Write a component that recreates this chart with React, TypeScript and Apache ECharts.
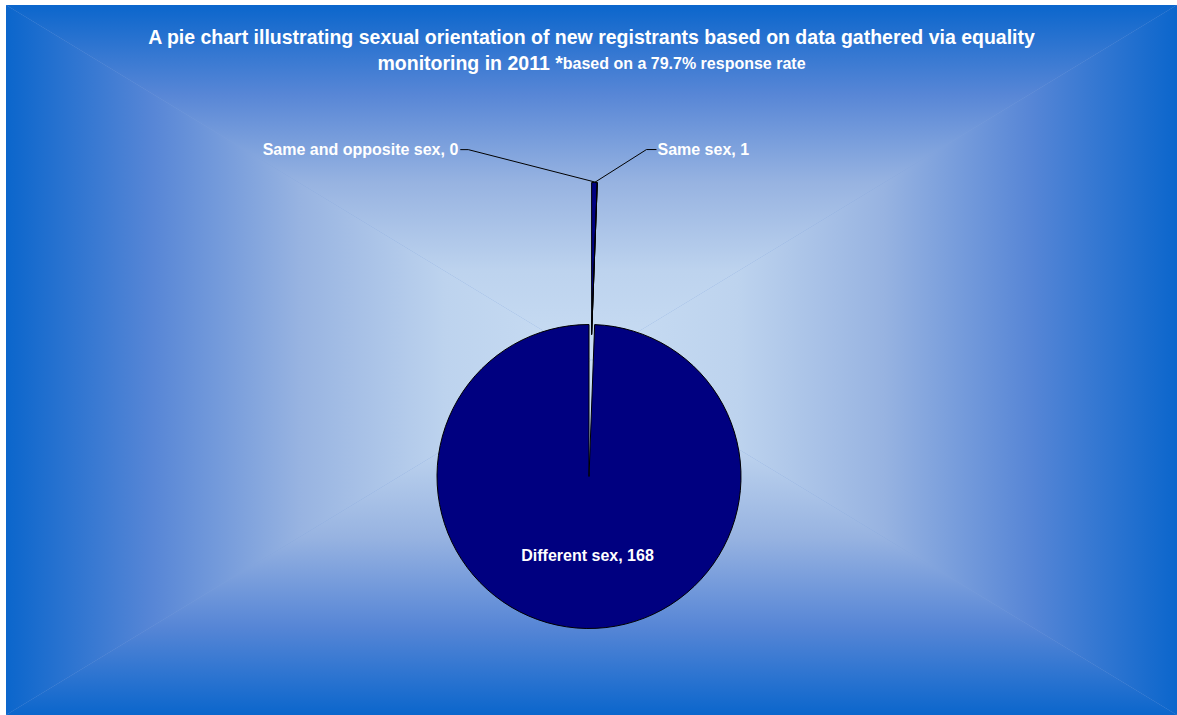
import React, { useEffect, useRef } from 'react';
import * as echarts from 'echarts';

const categories = ['Same sex', 'Same and opposite sex', 'Different sex'];
const values = [1, 0, 168];
const explodedIndex = [0, 1];
const titleLine1 = 'A pie chart illustrating sexual orientation of new registrants based on data gathered via equality';
const titleLine2 = 'monitoring in 2011 *';
const titleNote = 'based on a 79.7% response rate';

const W = 1171;
const H = 710;
const CX = 583;
const CY = 471.5;
const R = 152;
const EXPLODE = 142;
const NAVY = '#000080';
const FONT = '"Liberation Sans", Arial, sans-serif';

const gradStops = (reverse: boolean) => {
  const s: [number, string][] = [
    [0, '#0b66cc'],
    [0.25, '#5786d6'],
    [0.5, '#97b3e1'],
    [0.75, '#bdd3ee'],
    [1, '#c9ddf3'],
  ];
  const out = s.map(([o, c]) => ({ offset: reverse ? 1 - o : o, color: c }));
  out.sort((a, b) => a.offset - b.offset);
  return out;
};

export default function App() {
  const ref = useRef<HTMLDivElement>(null);
  useEffect(() => {
    if (!ref.current) return;
    const chart = echarts.init(ref.current, undefined, { renderer: 'svg' });
    const total = values.reduce((a, b) => a + b, 0);
    const mid = (values[0] / total) * Math.PI;
    const cxB = CX + EXPLODE * Math.sin(mid);
    const cyB = CY - EXPLODE * Math.cos(mid);
    const gx = W / 2;
    const gy = H / 2;

    const labelStyle = { color: '#fff', fontWeight: 'bold' as const, fontSize: 16, fontFamily: FONT };

    const mainData = categories.map((name, i) => {
      const exploded = explodedIndex.includes(i);
      return {
        name,
        value: values[i],
        itemStyle: exploded
          ? { color: 'rgba(0,0,0,0)', borderWidth: 0 }
          : { color: NAVY, borderColor: '#000', borderWidth: 1 },
        label: { show: !exploded },
      };
    });
    const explodedData = categories.map((name, i) => {
      const exploded = explodedIndex.includes(i);
      return {
        name,
        value: values[i],
        itemStyle: exploded
          ? { color: NAVY, borderColor: '#000', borderWidth: 1 }
          : { color: 'rgba(0,0,0,0)', borderWidth: 0 },
        label: { show: exploded },
        labelLine: { show: exploded },
      };
    });

    chart.setOption({
      animation: false,
      backgroundColor: '#7fa2dc',
      graphic: [
        {
          type: 'polygon',
          silent: true,
          shape: { points: [[0, 0], [W, 0], [gx, gy]] },
          style: { fill: new echarts.graphic.LinearGradient(0, 0, 0, 1, gradStops(false)) },
        },
        {
          type: 'polygon',
          silent: true,
          shape: { points: [[0, H], [W, H], [gx, gy]] },
          style: { fill: new echarts.graphic.LinearGradient(0, 0, 0, 1, gradStops(true)) },
        },
        {
          type: 'polygon',
          silent: true,
          shape: { points: [[0, 0], [0, H], [gx, gy]] },
          style: { fill: new echarts.graphic.LinearGradient(0, 0, 1, 0, gradStops(false)) },
        },
        {
          type: 'polygon',
          silent: true,
          shape: { points: [[W, 0], [W, H], [gx, gy]] },
          style: { fill: new echarts.graphic.LinearGradient(0, 0, 1, 0, gradStops(true)) },
        },
      ],
      title: {
        text: titleLine1 + '\n' + titleLine2 + '{s|' + titleNote + '}',
        left: 'center',
        top: 14,
        textStyle: {
          color: '#fff',
          fontWeight: 'bold',
          fontSize: 19.5,
          fontFamily: FONT,
          lineHeight: 26,
          rich: {
            s: { color: '#fff', fontWeight: 'bold', fontSize: 16, fontFamily: FONT, lineHeight: 26 },
          },
        },
      },
      series: [
        {
          type: 'pie',
          center: [CX, CY],
          radius: R,
          startAngle: 90,
          clockwise: true,
          avoidLabelOverlap: false,
          silent: true,
          label: { position: 'inside', formatter: '{b}, {c}', ...labelStyle },
          labelLine: { show: false },
          data: mainData,
        },
        {
          type: 'pie',
          center: [cxB, cyB],
          radius: R,
          startAngle: 90,
          clockwise: true,
          avoidLabelOverlap: false,
          silent: true,
          label: { position: 'outside', formatter: '{b}, {c}', ...labelStyle },
          labelLine: { show: true, length: 20, length2: 10, lineStyle: { color: '#000', width: 1 } },
          labelLayout: (params: any) => {
            const pts = params.labelLinePoints;
            const ax = pts && pts[0] ? pts[0][0] : params.rect.x + params.rect.width / 2;
            const ay = pts && pts[0] ? pts[0][1] : params.rect.y;
            if (params.dataIndex === 0) {
              return {
                x: ax + 63,
                y: ay - 33,
                align: 'left',
                verticalAlign: 'middle',
                labelLinePoints: [[ax, ay], [ax + 52, ay - 33], [ax + 62, ay - 33]],
              };
            }
            if (params.dataIndex === 1) {
              return {
                x: ax - 139,
                y: ay - 33,
                align: 'right',
                verticalAlign: 'middle',
                labelLinePoints: [[ax, ay], [ax - 129, ay - 33], [ax - 137, ay - 33]],
              };
            }
            return {};
          },
          data: explodedData,
        },
      ],
    });
    return () => chart.dispose();
  }, []);
  return (
    <div
      ref={ref}
      style={{ position: 'fixed', left: 6, top: 5, width: W, height: H }}
    />
  );
}
